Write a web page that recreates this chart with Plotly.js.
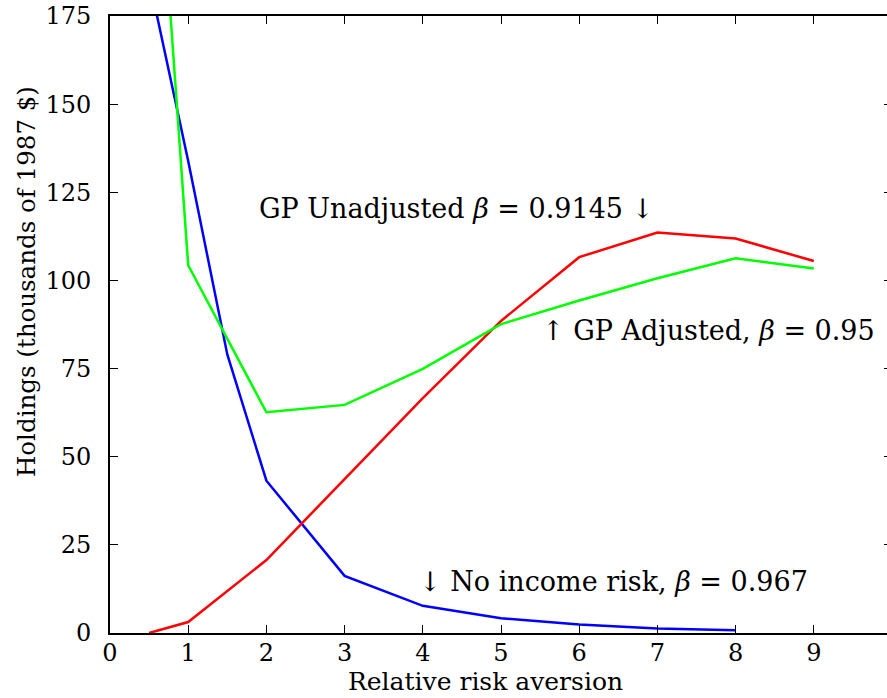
<!DOCTYPE html>
<html>
<head>
<meta charset="utf-8">
<script src="https://cdn.plot.ly/plotly-3.0.1.min.js"></script>
<style>
  html, body { margin: 0; padding: 0; overflow: hidden; background: #fff; }
  #chart { width: 900px; height: 698px; }
</style>
</head>
<body>
<div id="chart"></div>
<script>
// Portfolio holdings by relative risk aversion for three model variants
const rraNoIncome = [0.5, 1, 1.5, 2, 3, 4, 5, 6, 7, 8];
const holdNoIncome = [185.5, 133.9, 79.0, 43.2, 16.2, 7.7, 4.2, 2.4, 1.3, 0.8];

const rraGP = [0.5, 1, 2, 3, 4, 5, 6, 7, 8, 9];
const holdUnadjusted = [0, 3.1, 20.7, 43.6, 66.6, 88.5, 106.6, 113.6, 111.9, 105.5];
const holdAdjusted = [261, 104.3, 62.6, 64.7, 74.9, 87.6, 94.3, 100.6, 106.3, 103.4];

const xTicks = [0, 1, 2, 3, 4, 5, 6, 7, 8, 9];
const yTicks = [0, 25, 50, 75, 100, 125, 150, 175];

const serif = "DejaVu Serif";

const traces = [
  { x: rraNoIncome, y: holdNoIncome, mode: "lines", line: { color: "#0000ff", width: 2.5 }, name: "No income risk" },
  { x: rraGP, y: holdUnadjusted, mode: "lines", line: { color: "#ff0000", width: 2.5 }, name: "GP Unadjusted" },
  { x: rraGP, y: holdAdjusted, mode: "lines", line: { color: "#00ff00", width: 2.5 }, name: "GP Adjusted" }
];

const axisCommon = {
  showgrid: false,
  zeroline: false,
  showline: true,
  linecolor: "#000",
  linewidth: 2,
  mirror: "ticks",
  ticks: "inside",
  ticklen: 8,
  tickwidth: 1,
  tickcolor: "#000",
  tickfont: { family: serif, size: 24, color: "#000" }
};

const layout = {
  width: 900,
  height: 698,
  margin: { l: 110, r: 8, t: 16, b: 65 },
  paper_bgcolor: "#fff",
  plot_bgcolor: "#fff",
  showlegend: false,
  font: { family: serif, color: "#000" },
  xaxis: Object.assign({}, axisCommon, {
    range: [0, 10],
    tickvals: xTicks,
    ticktext: xTicks.map(String),
    ticklabelstandoff: -3
  }),
  yaxis: Object.assign({}, axisCommon, {
    range: [0, 175],
    tickvals: yTicks,
    ticktext: yTicks.map(String),
    ticklabelstandoff: 12
  }),
  annotations: [
    { x: 1.88, y: 120.5, xref: "x", yref: "y", xanchor: "left", yanchor: "middle", showarrow: false,
      text: "GP Unadjusted <i>β</i> = 0.9145 ↓", font: { family: serif, size: 27, color: "#000" } },
    { x: 5.5, y: 85.9, xref: "x", yref: "y", xanchor: "left", yanchor: "middle", showarrow: false,
      text: "↑ GP Adjusted, <i>β</i> = 0.95", font: { family: serif, size: 27, color: "#000" } },
    { x: 3.92, y: 14.5, xref: "x", yref: "y", xanchor: "left", yanchor: "middle", showarrow: false,
      text: "↓ No income risk, <i>β</i> = 0.967", font: { family: serif, size: 27, color: "#000" } },
    { x: 485, y: 681, xref: "paper", yref: "paper", showarrow: false,
      text: "Relative risk aversion", font: { family: serif, size: 25, color: "#000" } },
    { x: 26, y: 282, xref: "paper", yref: "paper", showarrow: false, textangle: -90,
      text: "Holdings (thousands of 1987 $)", font: { family: serif, size: 24.5, color: "#000" } }
  ]
};

// Axis-title annotations are placed in pixels, converted to paper fractions
const plotW = layout.width - layout.margin.l - layout.margin.r;
const plotH = layout.height - layout.margin.t - layout.margin.b;
layout.annotations.forEach(a => {
  if (a.xref === "paper") {
    a.x = (a.x - layout.margin.l) / plotW;
    a.y = (layout.height - layout.margin.b - a.y) / plotH;
    a.xanchor = "center";
    a.yanchor = "middle";
  }
});

Plotly.newPlot("chart", traces, layout, { displayModeBar: false, staticPlot: true });
</script>
</body>
</html>
